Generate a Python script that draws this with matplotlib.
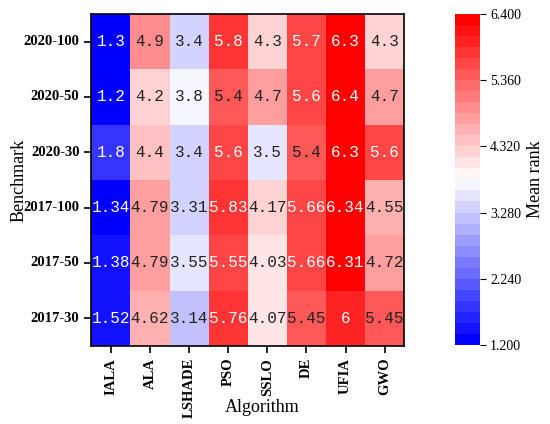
import numpy as np
import matplotlib
matplotlib.use('Agg')
import matplotlib.pyplot as plt
import seaborn as sns

benchmarks = ["2020-100", "2020-50", "2020-30", "2017-100", "2017-50", "2017-30"]
algorithms = ["IALA", "ALA", "LSHADE", "PSO", "SSLO", "DE", "UFIA", "GWO"]
mean_rank = np.array([
    [1.3, 4.9, 3.4, 5.8, 4.3, 5.7, 6.3, 4.3],
    [1.2, 4.2, 3.8, 5.4, 4.7, 5.6, 6.4, 4.7],
    [1.8, 4.4, 3.4, 5.6, 3.5, 5.4, 6.3, 5.6],
    [1.34, 4.79, 3.31, 5.83, 4.17, 5.66, 6.34, 4.55],
    [1.38, 4.79, 3.55, 5.55, 4.03, 5.66, 6.31, 4.72],
    [1.52, 4.62, 3.14, 5.76, 4.07, 5.45, 6, 5.45],
])
cbar_ticks = [1.2, 2.24, 3.28, 4.32, 5.36, 6.4]

plt.rcParams['font.family'] = ['Liberation Serif', 'DejaVu Serif']

fig = plt.figure(figsize=(5.5, 4.24), dpi=100)
ax = fig.add_axes([0.166, 0.184, 0.569, 0.783])
cax = fig.add_axes([0.828, 0.186, 0.044, 0.782])

cmap = plt.get_cmap('bwr', 30)
sns.heatmap(mean_rank, ax=ax, cbar_ax=cax, cmap=cmap, vmin=1.2, vmax=6.4,
            annot=False,
            xticklabels=algorithms, yticklabels=benchmarks,
            cbar_kws={'ticks': cbar_ticks, 'format': '%.3f'})

# cell labels: white on the strong colours, dark on the pale ones
for i in range(len(benchmarks)):
    for j in range(len(algorithms)):
        v = mean_rank[i, j]
        c = 'white' if (v < 2.5 or v > 5.5) else '#222222'
        ax.text(j + 0.5, i + 0.5, f'{v:g}', ha='center', va='center',
                color=c, fontsize=11.5, family='Liberation Mono')

for s in ax.spines.values():
    s.set_visible(True)
    s.set_color('black')
    s.set_linewidth(1.2)

ax.set_xticklabels(algorithms, rotation=90, fontsize=10.5, fontweight='bold')
ax.set_yticklabels(benchmarks, rotation=0, fontsize=10.5, fontweight='bold')
ax.tick_params(length=5, width=1.2)
ax.set_xlabel("Algorithm", fontsize=13)
ax.set_ylabel("Benchmark", fontsize=13)
ax.xaxis.set_label_coords(0.546, -0.16)
ax.yaxis.set_label_coords(-0.205, 0.5)

cbar = ax.collections[0].colorbar
cbar.set_label("Mean rank", fontsize=13)
cbar.ax.tick_params(labelsize=10, length=4)
cbar.outline.set_visible(True)
cbar.outline.set_edgecolor('gray')

plt.savefig("out.png", dpi=100)
